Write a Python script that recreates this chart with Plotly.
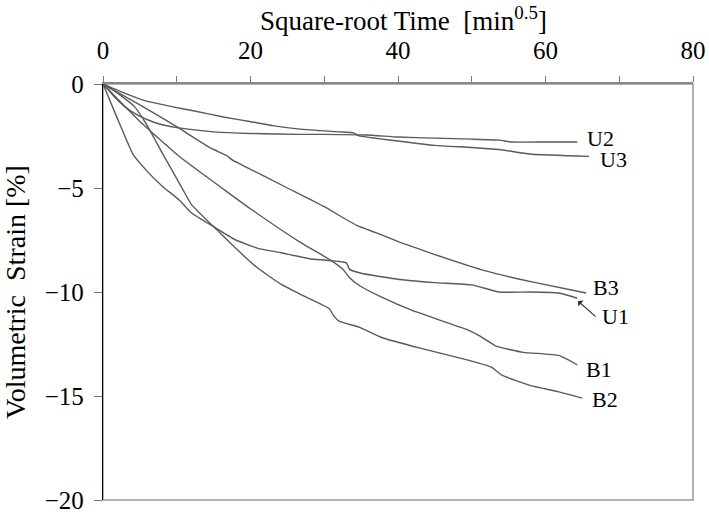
import plotly.graph_objects as go

# ---- data ----
u2_x = [0, 1.5, 3, 4.7, 7, 10, 15, 20, 26.7, 30, 35.7, 40, 45, 50, 53.7, 55.5, 60, 64.3]
u2_y = [0, -0.6, -1.1, -1.5, -1.85, -2.1, -2.3, -2.38, -2.42, -2.42, -2.45, -2.55, -2.6, -2.65, -2.7, -2.79, -2.79, -2.79]

u3_x = [0, 3, 5.7, 9.5, 12.4, 16.5, 19.9, 23, 26.7, 32, 34, 34.6, 40.2, 45, 50, 53.7, 58.2, 65.9]
u3_y = [0, -0.45, -0.8, -1.1, -1.3, -1.6, -1.8, -2.0, -2.17, -2.3, -2.35, -2.48, -2.75, -2.95, -3.05, -3.15, -3.38, -3.48]

b3_x = [0, 5, 10, 12.2, 14.7, 16.8, 17.4, 20, 25, 30, 34.4, 37, 40.2, 45, 52, 58, 65.5]
b3_y = [0, -1.0, -2.05, -2.55, -3.1, -3.45, -3.62, -4.1, -5.0, -5.9, -6.8, -7.15, -7.6, -8.2, -9.0, -9.5, -10.05]

b1_x = [0, 5, 10.4, 16.5, 20, 26.7, 31, 32.5, 33.4, 34.8, 37.5, 42, 49.3, 51, 53.3, 57, 61.8, 64.3]
b1_y = [0, -1.8, -3.5, -5.1, -6.0, -7.6, -8.5, -8.9, -9.3, -9.7, -10.2, -10.9, -11.8, -12.1, -12.6, -12.9, -13.05, -13.5]

u1_x = [0, 2, 4.1, 6, 8, 10.4, 12, 15.2, 18, 21, 24, 28, 33, 33.4, 35, 40.2, 45, 50, 53.7, 58, 61.8, 64.3]
u1_y = [0, -1.7, -3.4, -4.2, -4.9, -5.6, -6.2, -6.9, -7.5, -7.9, -8.1, -8.4, -8.6, -8.9, -9.1, -9.4, -9.55, -9.66, -10.0, -10.0, -10.05, -10.3]

b2_x = [0, 2, 4.3, 6, 8, 10.4, 12, 15.4, 18, 20.8, 24, 26.7, 30.7, 31.2, 32, 34.8, 37.9, 43, 48.7, 52.6, 54.1, 58, 61.8, 65]
b2_y = [0, -0.45, -1.1, -2.0, -3.3, -4.8, -5.8, -7.0, -7.9, -8.8, -9.6, -10.1, -10.8, -11.1, -11.4, -11.7, -12.2, -12.7, -13.2, -13.6, -14.0, -14.5, -14.8, -15.1]

series_names = ["U2", "U3", "B3", "B1", "U1", "B2"]
series_x = [u2_x, u3_x, b3_x, b1_x, u1_x, b2_x]
series_y = [u2_y, u3_y, b3_y, b1_y, u1_y, b2_y]

# label positions, same order as series_names
label_x = [65.5, 67.3, 66.3, 65.4, 67.5, 66.2]
label_y = [-2.6, -3.65, -9.76, -13.72, -11.16, -15.17]

x_ticks = [0, 20, 40, 60, 80]
y_ticks = [0, -5, -10, -15, -20]

x_title = "Square-root Time  [min<sup>0.5</sup>]"
y_title = "Volumetric  Strain [%]"

FONT = "Liberation Serif, Times New Roman, serif"
LINE = "#5a5a5a"

fig = go.Figure()
for name, xs, ys in zip(series_names, series_x, series_y):
    fig.add_trace(go.Scatter(x=xs, y=ys, mode="lines", name=name,
                             line=dict(color=LINE, width=1.4, shape="spline", smoothing=0.4),
                             showlegend=False))

for name, lx, ly in zip(series_names, label_x, label_y):
    fig.add_annotation(x=lx, y=ly, text=name, showarrow=False, xanchor="left",
                       yanchor="middle", borderpad=0,
                       font=dict(family=FONT, size=22, color="black"))

# U1 arrow
fig.add_annotation(x=64.4, y=-10.43, ax=67.0, ay=-11.25, axref="x", ayref="y",
                   text="", showarrow=True, arrowhead=1, arrowsize=1.2,
                   arrowwidth=1.1, arrowcolor="#333333")

# x-axis title (placed above the top tick labels)
fig.add_annotation(xref="paper", yref="paper", x=0.51, y=1.114, text=x_title,
                   showarrow=False, xanchor="center", yanchor="bottom", borderpad=0,
                   font=dict(family=FONT, size=27, color="black"))

# plot-area border (grey)
fig.add_shape(type="rect", xref="paper", yref="paper", x0=0, x1=1, y0=0, y1=1,
              line=dict(color="#999999", width=1.5), layer="below")

fig.update_xaxes(side="top", range=[0, 80], tickvals=x_ticks,
                 ticks="outside", ticklen=6, tickcolor="#777777", tickwidth=1.2,
                 minor=dict(dtick=10, ticks="outside", ticklen=6, tickcolor="#777777", tickwidth=1.2),
                 showline=True, linecolor="#888888", linewidth=2,
                 showgrid=False, zeroline=False,
                 tickfont=dict(family=FONT, size=25, color="black"),
                 ticklabelstandoff=7)

fig.update_yaxes(range=[-20, 0], tickvals=y_ticks,
                 ticks="outside", ticklen=8, tickcolor="#777777", tickwidth=1.2,
                 showline=True, linecolor="black", linewidth=1.3,
                 showgrid=False, zeroline=False,
                 tickfont=dict(family=FONT, size=25, color="black"),
                 ticklabelstandoff=5,
                 title=dict(text=y_title,
                            font=dict(family=FONT, size=28, color="black"), standoff=10))

fig.update_layout(width=709, height=518,
                  margin=dict(l=103, r=16, t=84, b=18, autoexpand=False),
                  plot_bgcolor="white", paper_bgcolor="white")

fig.write_html("out.html")
